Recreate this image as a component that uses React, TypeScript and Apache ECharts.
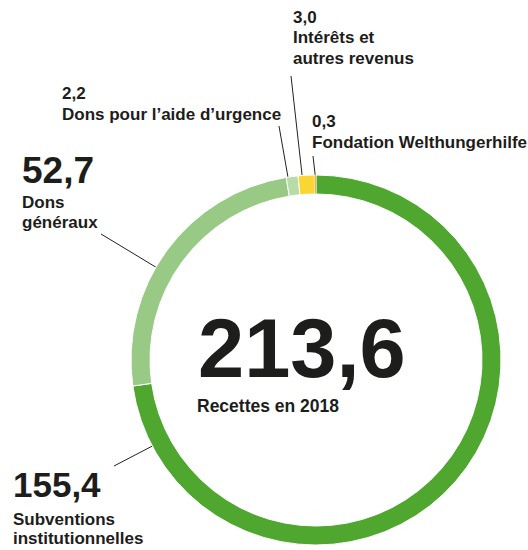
import React, { useEffect, useRef } from "react";
import * as echarts from "echarts";

const categories = [
  "Subventions institutionnelles",
  "Dons généraux",
  "Dons pour l’aide d’urgence",
  "Intérêts et autres revenus",
  "Fondation Welthungerhilfe",
];
const values = [155.4, 52.7, 2.2, 3.0, 0.3];
const labelLines = [
  ["Subventions", "institutionnelles"],
  ["Dons", "généraux"],
  ["Dons pour l’aide d’urgence"],
  ["Intérêts et", "autres revenus"],
  ["Fondation Welthungerhilfe"],
];
const totalCaption = "Recettes en 2018";

const colors = ["#4fa72f", "#98c985", "#b7dca8", "#fad632", "#f29a1b"];

// layout (styles/positions only)
const CX = 316;
const CY = 360;
const R_OUT = 185;
const R_IN = 166;
const FONT = '"Liberation Sans", Arial, sans-serif';
const TEXT = "#1d1d1b";

const layout = [
  { x: 13, vBase: 497, vSize: 35, lBase: [525, 544], frac: 0.925, start: [114, 466] },
  { x: 22, vBase: 183, vSize: 37, lBase: [208, 228], frac: 0.43, start: [101, 234] },
  { x: 62, vBase: 99, vSize: 17, lBase: [120], frac: 0.15, start: [279, 126] },
  { x: 293, vBase: 23, vSize: 17, lBase: [43, 64], frac: 0.25, start: [291, 76] },
  { x: 312, vBase: 127, vSize: 17, lBase: [148], frac: 0.5, start: [313, 156] },
];
const borderWidths = [1, 1, 1, 1, 0.4];

const fmt = (v: number) => v.toFixed(1).replace(".", ",");
const mid = (base: number, size: number) => base - 0.3465 * size;

export default function App() {
  const ref = useRef<HTMLDivElement>(null);
  useEffect(() => {
    document.body.style.margin = "0";
    const chart = echarts.init(ref.current!, null, { renderer: "svg" });
    const total = values.reduce((a, b) => a + b, 0);

    const graphics: any[] = [];
    let acc = 0;
    values.forEach((v, i) => {
      const L = layout[i];
      const a0 = (acc / total) * 360;
      const a1 = ((acc + v) / total) * 360;
      acc += v;
      const ang = ((a0 + (a1 - a0) * L.frac) * Math.PI) / 180;
      const ex = CX + R_OUT * Math.sin(ang);
      const ey = CY - R_OUT * Math.cos(ang);
      graphics.push({
        type: "line",
        shape: { x1: L.start[0], y1: L.start[1], x2: ex, y2: ey },
        style: { stroke: "#222", lineWidth: 1 },
        silent: true,
      });
      graphics.push({
        type: "text",
        style: {
          text: fmt(v),
          x: L.x,
          y: mid(L.vBase, L.vSize),
          fill: TEXT,
          font: `bold ${L.vSize}px ${FONT}`,
          align: "left",
          verticalAlign: "middle",
        },
      });
      labelLines[i].forEach((t, j) => {
        graphics.push({
          type: "text",
          style: {
            text: t,
            x: L.x,
            y: mid(L.lBase[j], 17),
            fill: TEXT,
            font: `bold 17px ${FONT}`,
            align: "left",
            verticalAlign: "middle",
          },
        });
      });
    });

    graphics.push({
      type: "text",
      style: {
        text: fmt(total),
        x: 198,
        y: mid(377, 83),
        fill: TEXT,
        font: `bold 83px ${FONT}`,
        align: "left",
        verticalAlign: "middle",
      },
    });
    graphics.push({
      type: "text",
      style: {
        text: totalCaption,
        x: 197,
        y: mid(412, 17.5),
        fill: TEXT,
        font: `bold 17.5px ${FONT}`,
        align: "left",
        verticalAlign: "middle",
      },
    });

    chart.setOption({
      animation: false,
      backgroundColor: "#ffffff",
      series: [
        {
          type: "pie",
          center: [CX, CY],
          radius: [R_IN, R_OUT],
          startAngle: 90,
          clockwise: true,
          label: { show: false },
          labelLine: { show: false },
          silent: true,
          data: values.map((v, i) => ({
            name: categories[i],
            value: v,
            itemStyle: { color: colors[i], borderColor: "#ffffff", borderWidth: borderWidths[i] },
          })),
        },
      ],
      graphic: graphics,
    });
    return () => chart.dispose();
  }, []);
  return <div ref={ref} style={{ width: 528, height: 550 }} />;
}
